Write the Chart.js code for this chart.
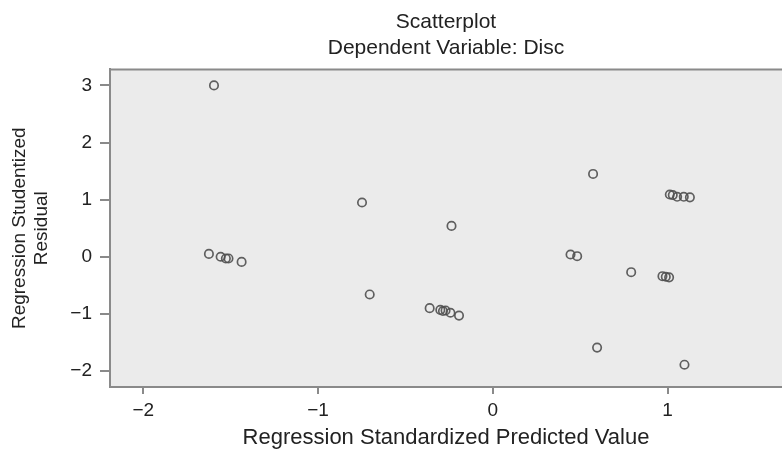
<!DOCTYPE html>
<html>
<head>
<meta charset="utf-8">
<script src="https://cdn.jsdelivr.net/npm/chart.js@4.4.1/dist/chart.umd.min.js"></script>
<style>
  html, body { margin: 0; padding: 0; background: #fff; }
  #wrap { width: 782px; height: 453px; }
</style>
</head>
<body>
<div id="wrap"><canvas id="c-scatter"></canvas></div>
<script>
// ── DATA ───────────────────────────────────────────────────────────────────

const predicted = [
  -1.595, -1.624, -1.557, -1.527, -1.512, -1.437,
  -0.748, -0.704,
  -0.361, -0.300, -0.285, -0.270, -0.242, -0.193, -0.236,
   0.445,  0.483,  0.574,  0.597,  0.792,
   0.971,  0.990,  1.009,
   1.013,  1.030,  1.055,  1.093,  1.128,  1.097,
];

const residual = [
   3.00,  0.05,  0.00, -0.03, -0.03, -0.09,
   0.95, -0.66,
  -0.90, -0.93, -0.95, -0.94, -0.98, -1.03,  0.54,
   0.04,  0.01,  1.45, -1.59, -0.27,
  -0.34, -0.35, -0.36,
   1.09,  1.08,  1.05,  1.05,  1.04, -1.89,
];

const xTicks = [-2, -1, 0, 1];
const yTicks = [-2, -1, 0, 1, 2, 3];

const titleLines  = ['Scatterplot', 'Dependent Variable: Disc'];
const xTitle      = 'Regression Standardized Predicted Value';
const yTitleLines = ['Regression Studentized', 'Residual'];

// ── STYLE ──────────────────────────────────────────────────────────────────

const COLORS = {
  text:   '#222222',
  frame:  '#8a8a8a',
  panel:  '#ebebeb',
  marker: 'rgba(80,80,80,0.9)',
};
const FONT = 'Liberation Sans, Arial, sans-serif';

const minusSign = v => String(v).replace('-', '\u2212');

// plot panel fill + top frame line
const panelPlugin = {
  id: 'panel',
  beforeDraw(chart) {
    const { ctx, chartArea: a } = chart;
    ctx.save();
    ctx.fillStyle = COLORS.panel;
    ctx.fillRect(a.left, a.top, a.right - a.left, a.bottom - a.top);
    ctx.strokeStyle = COLORS.frame;
    ctx.lineWidth = 2;
    ctx.beginPath();
    ctx.moveTo(a.left, a.top);
    ctx.lineTo(a.right, a.top);
    ctx.stroke();
    ctx.restore();
  },
};

const points = predicted.map((x, i) => ({ x, y: residual[i] }));

new Chart(document.getElementById('c-scatter'), {
  type: 'scatter',
  data: {
    datasets: [{
      label: 'Residuals',
      data: points,
      pointStyle: 'circle',
      pointRadius: 4.2,
      pointHoverRadius: 4.2,
      pointBorderWidth: 1.7,
      borderColor: COLORS.marker,
      backgroundColor: 'rgba(0,0,0,0)',
    }],
  },
  options: {
    responsive: true,
    maintainAspectRatio: false,
    animation: false,
    layout: { autoPadding: false, padding: 0 },
    plugins: {
      legend: { display: false },
      tooltip: { enabled: false },
      title: {
        display: true,
        text: titleLines,
        fullSize: false,
        color: COLORS.text,
        font: { family: FONT, size: 21, weight: 'normal', lineHeight: 1.2 },
        padding: { top: 10, bottom: 9 },
      },
    },
    scales: {
      x: {
        type: 'linear',
        min: -2.19,
        max: 1.655,
        afterBuildTicks: s => { s.ticks = xTicks.map(v => ({ value: v })); },
        afterFit: s => { s.height = 66; },
        border: { display: true, color: COLORS.frame, width: 2 },
        grid: { drawOnChartArea: false, drawTicks: true, tickLength: 7, color: COLORS.frame, lineWidth: 2 },
        ticks: {
          color: COLORS.text,
          padding: 5,
          font: { family: FONT, size: 19 },
          callback: v => minusSign(v),
        },
        title: {
          display: true,
          text: xTitle,
          color: COLORS.text,
          font: { family: FONT, size: 22 },
          padding: { top: 4, bottom: 2 },
        },
      },
      y: {
        type: 'linear',
        min: -2.28,
        max: 3.28,
        afterBuildTicks: s => { s.ticks = yTicks.map(v => ({ value: v })); },
        afterFit: s => { s.width = 110; },
        border: { display: true, color: COLORS.frame, width: 2 },
        grid: { drawOnChartArea: false, drawTicks: true, tickLength: 10, color: COLORS.frame, lineWidth: 2 },
        ticks: {
          color: COLORS.text,
          padding: 8,
          font: { family: FONT, size: 19 },
          callback: v => minusSign(v),
        },
        title: {
          display: true,
          text: yTitleLines,
          color: COLORS.text,
          font: { family: FONT, size: 19, lineHeight: 1.2 },
          padding: { top: 8, bottom: 0 },
        },
      },
    },
  },
  plugins: [panelPlugin],
});
</script>
</body>
</html>
